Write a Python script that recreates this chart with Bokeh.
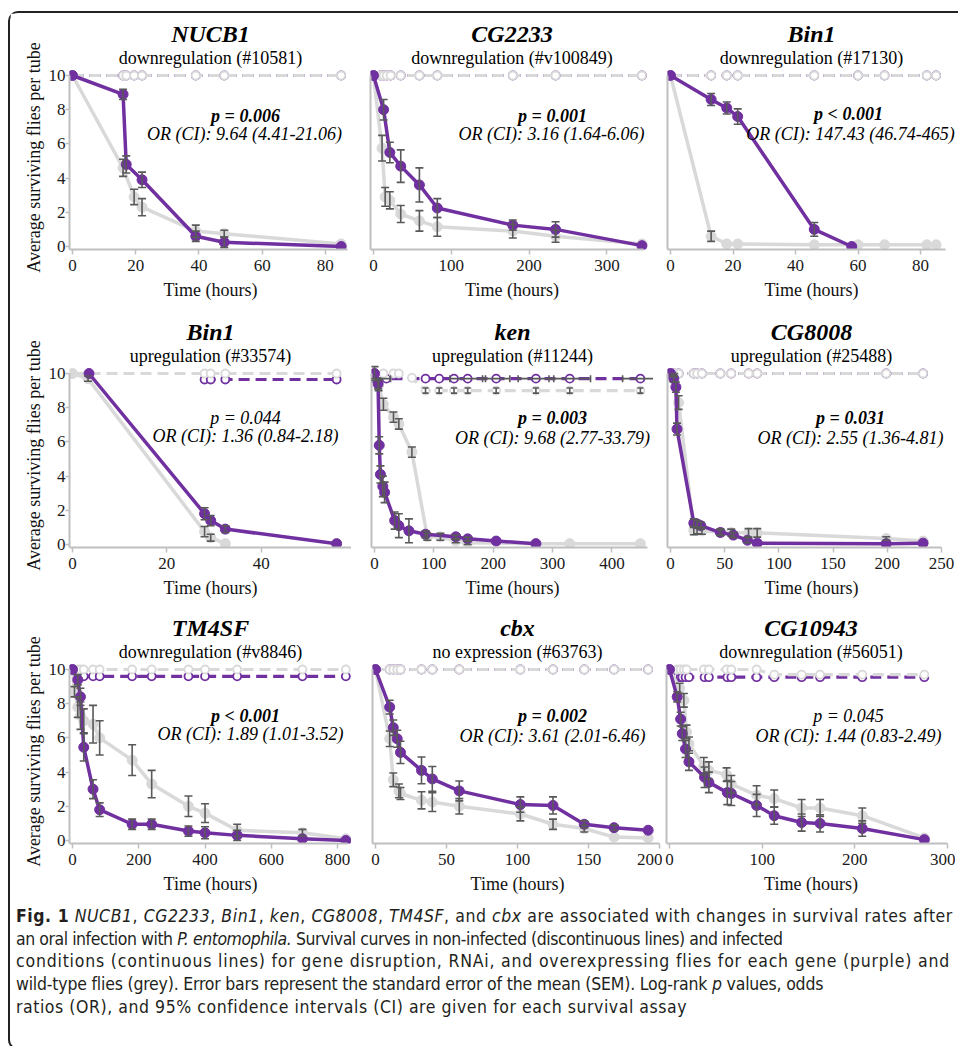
import numpy as np
from bokeh.plotting import figure
from bokeh.models import ColumnDataSource, Whisker, TeeHead, Label, Range1d, FixedTicker, Div, Title
from bokeh.layouts import column, row
from bokeh.embed import file_html
from bokeh.resources import INLINE

PURPLE = "#7030A0"
GREY = "#D9D9D9"
ERR = "#595959"
AXIS = "#BFBFBF"
SERIF = "Liberation Serif"

# ---------------- data ----------------
# NUCB1
nucb1_gene_t = [0, 16, 17, 22, 39, 48, 85]
nucb1_gene = [10, 8.9, 4.8, 3.9, 0.6, 0.25, 0]
nucb1_gene_err = [0, 0.3, 0.5, 0.45, 0.3, 0.3, 0]
nucb1_wt_t = [0, 16, 19.5, 22, 39, 48, 85]
nucb1_wt = [10, 4.6, 2.9, 2.3, 0.9, 0.75, 0.15]
nucb1_wt_err = [0, 0.5, 0.45, 0.5, 0.35, 0.2, 0]
nucb1_ctrl_t = [0, 16, 17, 19.5, 22, 39, 48, 85]
nucb1_wt_ctrl = [10, 10, 10, 10, 10, 10, 10, 10]
nucb1_gene_ctrl = [10, 10, 10, 10, 10, 10, 10, 10]

# CG2233
cg2233_gene_t = [0, 13, 21, 35, 59, 82, 179, 234, 345]
cg2233_gene = [10, 8.0, 5.5, 4.7, 3.6, 2.25, 1.25, 1.0, 0.05]
cg2233_gene_err = [0, 0.6, 0.6, 0.95, 1.0, 0.55, 0.3, 0.45, 0]
cg2233_wt_t = [0, 11, 15, 21, 35, 59, 82, 179, 234, 345]
cg2233_wt = [10, 5.75, 2.9, 2.7, 1.9, 1.5, 1.15, 0.9, 0.6, 0.15]
cg2233_wt_err = [0, 0.75, 0.55, 0.5, 0.5, 0.6, 0.55, 0.4, 0.35, 0]
cg2233_ctrl_t = [0, 9, 13, 17, 22, 35, 59, 82, 179, 234, 345]
cg2233_wt_ctrl = [10, 10, 10, 10, 10, 10, 10, 10, 10, 10, 10]
cg2233_gene_ctrl = [10, 10, 10, 10, 10, 10, 10, 10, 10, 10, 10]

# Bin1 downregulation
bin1d_gene_t = [0, 13, 18, 21.5, 46, 58]
bin1d_gene = [10, 8.6, 8.1, 7.6, 1.0, 0]
bin1d_gene_err = [0, 0.35, 0.35, 0.45, 0.4, 0]
bin1d_wt_t = [0, 13, 18, 21.5, 46, 60, 68.5, 82, 85]
bin1d_wt = [10, 0.6, 0.15, 0.15, 0.1, 0.1, 0.1, 0.1, 0.1]
bin1d_wt_err = [0, 0.3, 0, 0, 0, 0, 0, 0, 0]
bin1d_ctrl_t = [0, 13, 18, 21.5, 46, 60, 68.5, 82, 85]
bin1d_wt_ctrl = [10, 10, 10, 10, 10, 10, 10, 10, 10]
bin1d_gene_ctrl = [10, 10, 10, 10, 10, 10, 10, 10, 10]

# Bin1 upregulation
bin1u_gene_t = [3.5, 28, 29.3, 32.4, 56]
bin1u_gene = [10, 1.8, 1.4, 0.9, 0.05]
bin1u_gene_err = [0, 0.35, 0.3, 0.2, 0]
bin1u_wt_t = [0, 3.3, 28, 29.3, 32.4]
bin1u_wt = [10, 9.7, 0.75, 0.4, 0.05]
bin1u_wt_err = [0, 0.15, 0.3, 0.2, 0]
bin1u_wt_ctrl_t = [0, 3.5, 28, 29.3, 32.4, 56]
bin1u_wt_ctrl = [10, 10, 10, 10, 10, 10]
bin1u_gene_ctrl_t = [28, 29.3, 32.4, 56]
bin1u_gene_ctrl = [9.65, 9.65, 9.65, 9.65]

# ken
ken_gene_t = [0, 6, 8, 10, 14, 17, 34, 41, 58, 86, 137, 157, 205, 272]
ken_gene = [10, 9.4, 5.8, 4.1, 3.4, 3.05, 1.4, 1.1, 0.8, 0.6, 0.45, 0.33, 0.2, 0.05]
ken_gene_err = [0, 0.3, 0.5, 0.5, 0.6, 0.6, 0.5, 0.7, 0.7, 0.2, 0.1, 0.1, 0, 0]
ken_wt_t = [0, 7, 15, 32, 41, 63, 89, 111, 137, 157, 272, 329, 448]
ken_wt = [10, 9.3, 8.2, 7.45, 7.05, 5.4, 0.45, 0.45, 0.2, 0.1, 0.05, 0.05, 0.05]
ken_wt_err = [0.4, 0.3, 0.35, 0.3, 0.3, 0.3, 0.2, 0.2, 0.1, 0.1, 0, 0, 0]
ken_gene_ctrl_t = [0, 20, 86, 109, 134, 157, 205, 272, 329, 448]
ken_gene_ctrl = [9.7, 9.7, 9.7, 9.7, 9.7, 9.7, 9.7, 9.7, 9.7, 9.7]
ken_gene_ctrl_xerr = [27, 0, 0, 0, 0, 30, 23, 30, 35, 30]
ken_wt_ctrl_t = [0, 15, 32, 41, 63, 86, 109, 134, 157, 205, 272, 329, 448]
ken_wt_ctrl = [10, 10, 10, 10, 9.75, 9.0, 9.0, 9.0, 9.0, 9.0, 9.0, 9.0, 9.0]
ken_wt_ctrl_err = [0, 0, 0, 0, 0, 0.15, 0.15, 0.15, 0.15, 0.15, 0.15, 0.15, 0.15]

# CG8008
cg8008_gene_t = [0, 3, 5, 6, 21.5, 24.5, 28, 46, 58, 71, 80, 199, 233]
cg8008_gene = [10, 9.7, 9.2, 6.75, 1.25, 1.2, 1.1, 0.7, 0.55, 0.25, 0.08, 0.05, 0.08]
cg8008_gene_err = [0, 0.2, 0.3, 0.35, 0.25, 0.2, 0.2, 0.15, 0.15, 0.15, 0, 0, 0]
cg8008_wt_t = [0, 3, 7.5, 21.5, 24.5, 29, 46, 56, 72, 80, 199, 233]
cg8008_wt = [10, 9.9, 8.3, 0.82, 0.82, 0.8, 0.72, 0.7, 0.68, 0.68, 0.35, 0.2]
cg8008_wt_err = [0, 0.1, 0.4, 0.25, 0.2, 0.2, 0.2, 0.2, 0.25, 0.25, 0.1, 0]
cg8008_ctrl_t = [0, 3, 7.5, 21.5, 24.5, 29, 46, 56, 72, 80, 199, 233]
cg8008_wt_ctrl = [10, 10, 10, 10, 10, 10, 10, 10, 10, 10, 10, 10]
cg8008_gene_ctrl = [10, 10, 10, 10, 10, 10, 10, 10, 10, 10, 10, 10]

# TM4SF
tm4sf_gene_t = [0, 16, 24, 34, 62, 82, 180, 239, 350, 400, 497, 694, 825]
tm4sf_gene = [10, 9.4, 8.4, 5.45, 3.0, 1.8, 0.95, 0.95, 0.55, 0.45, 0.3, 0.1, 0]
tm4sf_gene_err = [0, 0.3, 0.5, 0.8, 0.55, 0.4, 0.3, 0.3, 0.3, 0.35, 0.3, 0, 0]
tm4sf_wt_t = [0, 6, 16, 24, 34, 62, 82, 180, 239, 350, 400, 497, 694, 825]
tm4sf_wt = [10, 8.7, 7.8, 7.3, 7.0, 6.8, 6.0, 4.7, 3.3, 2.0, 1.6, 0.6, 0.45, 0.1]
tm4sf_wt_err = [0, 0.3, 0.6, 0.8, 0.7, 1.1, 1.0, 0.9, 0.8, 0.6, 0.55, 0.35, 0.2, 0]
tm4sf_ctrl_t = [0, 16, 24, 34, 62, 82, 180, 239, 350, 400, 497, 694, 825]
tm4sf_wt_ctrl = [10, 10, 10, 10, 10, 10, 10, 10, 10, 10, 10, 10, 10]
tm4sf_gene_ctrl = [10, 9.6, 9.6, 9.6, 9.6, 9.6, 9.6, 9.6, 9.6, 9.6, 9.6, 9.6, 9.6]

# cbx
cbx_gene_t = [0, 10, 12.5, 15.3, 17.6, 32.4, 40, 59, 102, 125, 147, 168, 192]
cbx_gene = [10, 7.8, 6.6, 5.95, 5.15, 4.1, 3.6, 2.9, 2.1, 2.05, 0.95, 0.75, 0.6]
cbx_gene_err = [0, 0.4, 0.45, 0.5, 0.65, 0.78, 0.73, 0.58, 0.45, 0.5, 0.2, 0.15, 0]
cbx_wt_t = [0, 10, 12.5, 16.5, 17.6, 32.4, 40, 59, 102, 125, 147, 168, 192]
cbx_wt = [10, 5.95, 3.55, 2.9, 2.75, 2.35, 2.25, 2.0, 1.55, 0.95, 0.7, 0.2, 0.15]
cbx_wt_err = [0, 0.45, 0.4, 0.4, 0.35, 0.5, 0.55, 0.45, 0.4, 0.3, 0.2, 0, 0]
cbx_ctrl_t = [0, 10, 12.5, 15.3, 17.6, 32.4, 40, 59, 102, 125, 147, 168, 192]
cbx_wt_ctrl = [10, 10, 10, 10, 10, 10, 10, 10, 10, 10, 10, 10, 10]
cbx_gene_ctrl = [10, 10, 10, 10, 10, 10, 10, 10, 10, 10, 10, 10, 10]

# CG10943
cg10943_gene_t = [0, 8.3, 12, 13.8, 17.3, 21, 37.8, 42.5, 62.4, 66.7, 94, 113, 142.6, 162.5, 208, 275]
cg10943_gene = [10, 8.4, 7.1, 6.25, 5.35, 4.6, 3.7, 3.4, 2.8, 2.75, 2.05, 1.45, 1.05, 1.0, 0.7, 0.05]
cg10943_gene_err = [0, 0.3, 0.4, 0.4, 0.5, 0.5, 0.6, 0.6, 0.7, 0.7, 0.65, 0.5, 0.5, 0.5, 0.45, 0]
cg10943_wt_t = [0, 11, 15.5, 18.4, 21, 37, 42.5, 61.6, 66.7, 94, 113, 142.6, 162.5, 208, 275]
cg10943_wt = [10, 8.9, 8.2, 6.35, 5.65, 4.35, 4.1, 3.85, 3.3, 2.65, 2.45, 1.9, 1.9, 1.45, 0.15]
cg10943_wt_err = [0, 0.3, 0.4, 0.4, 0.4, 0.5, 0.5, 0.4, 0.5, 0.55, 0.5, 0.5, 0.5, 0.45, 0]
cg10943_wt_ctrl_t = [0, 8.3, 12, 15.5, 18.4, 37, 42.5, 61.6, 66.7, 94, 113, 142.6, 162.5, 208, 275]
cg10943_wt_ctrl = [10, 10, 10, 10, 10, 10, 10, 10, 10, 10, 9.7, 9.7, 9.7, 9.7, 9.7]
cg10943_gene_ctrl_t = [0, 8.3, 12, 13.8, 17.3, 21, 37.8, 42.5, 62.4, 66.7, 94, 113, 142.6, 162.5, 208, 275]
cg10943_gene_ctrl = [10, 9.55, 9.55, 9.55, 9.55, 9.55, 9.55, 9.55, 9.55, 9.55, 9.55, 9.55, 9.55, 9.55, 9.55, 9.55]

# titles / statistics
genes = ["NUCB1", "CG2233", "Bin1", "Bin1", "ken", "CG8008", "TM4SF", "cbx", "CG10943"]
subtitles = ["downregulation (#10581)", "downregulation (#v100849)", "downregulation (#17130)",
             "upregulation (#33574)", "upregulation (#11244)", "upregulation (#25488)",
             "downregulation (#v8846)", "no expression (#63763)", "downregulation (#56051)"]
p_texts = ["p = 0.006", "p = 0.001", "p < 0.001", "p = 0.044", "p = 0.003", "p = 0.031",
           "p < 0.001", "p = 0.002", "p = 0.045"]
p_bold = [True, True, True, False, True, True, True, True, False]
or_texts = ["OR (CI): 9.64 (4.41-21.06)", "OR (CI): 3.16 (1.64-6.06)", "OR (CI): 147.43 (46.74-465)",
            "OR (CI): 1.36 (0.84-2.18)", "OR (CI): 9.68 (2.77-33.79)", "OR (CI): 2.55 (1.36-4.81)",
            "OR (CI): 1.89 (1.01-3.52)", "OR (CI): 3.61 (2.01-6.46)", "OR (CI): 1.44 (0.83-2.49)"]
x_max = [87, 347, 88, 60, 460, 250, 830, 200, 300]
x_step = [20, 100, 20, 20, 100, 50, 200, 50, 100]
y_ticks = [0, 2, 4, 6, 8, 10]

series = [
    dict(gene=(nucb1_gene_t, nucb1_gene, nucb1_gene_err), wt=(nucb1_wt_t, nucb1_wt, nucb1_wt_err),
         gctrl=(nucb1_ctrl_t, nucb1_gene_ctrl), wctrl=(nucb1_ctrl_t, nucb1_wt_ctrl)),
    dict(gene=(cg2233_gene_t, cg2233_gene, cg2233_gene_err), wt=(cg2233_wt_t, cg2233_wt, cg2233_wt_err),
         gctrl=(cg2233_ctrl_t, cg2233_gene_ctrl), wctrl=(cg2233_ctrl_t, cg2233_wt_ctrl)),
    dict(gene=(bin1d_gene_t, bin1d_gene, bin1d_gene_err), wt=(bin1d_wt_t, bin1d_wt, bin1d_wt_err),
         gctrl=(bin1d_ctrl_t, bin1d_gene_ctrl), wctrl=(bin1d_ctrl_t, bin1d_wt_ctrl)),
    dict(gene=(bin1u_gene_t, bin1u_gene, bin1u_gene_err), wt=(bin1u_wt_t, bin1u_wt, bin1u_wt_err),
         gctrl=(bin1u_gene_ctrl_t, bin1u_gene_ctrl), wctrl=(bin1u_wt_ctrl_t, bin1u_wt_ctrl)),
    dict(gene=(ken_gene_t, ken_gene, ken_gene_err), wt=(ken_wt_t, ken_wt, ken_wt_err),
         gctrl=(ken_gene_ctrl_t, ken_gene_ctrl), wctrl=(ken_wt_ctrl_t, ken_wt_ctrl),
         wctrl_err=ken_wt_ctrl_err, gctrl_xerr=ken_gene_ctrl_xerr),
    dict(gene=(cg8008_gene_t, cg8008_gene, cg8008_gene_err), wt=(cg8008_wt_t, cg8008_wt, cg8008_wt_err),
         gctrl=(cg8008_ctrl_t, cg8008_gene_ctrl), wctrl=(cg8008_ctrl_t, cg8008_wt_ctrl)),
    dict(gene=(tm4sf_gene_t, tm4sf_gene, tm4sf_gene_err), wt=(tm4sf_wt_t, tm4sf_wt, tm4sf_wt_err),
         gctrl=(tm4sf_ctrl_t, tm4sf_gene_ctrl), wctrl=(tm4sf_ctrl_t, tm4sf_wt_ctrl)),
    dict(gene=(cbx_gene_t, cbx_gene, cbx_gene_err), wt=(cbx_wt_t, cbx_wt, cbx_wt_err),
         gctrl=(cbx_ctrl_t, cbx_gene_ctrl), wctrl=(cbx_ctrl_t, cbx_wt_ctrl)),
    dict(gene=(cg10943_gene_t, cg10943_gene, cg10943_gene_err), wt=(cg10943_wt_t, cg10943_wt, cg10943_wt_err),
         gctrl=(cg10943_gene_ctrl_t, cg10943_gene_ctrl), wctrl=(cg10943_wt_ctrl_t, cg10943_wt_ctrl)),
]

# ---------------- layout geometry (page pixels) ----------------
COL_LEFT = [[10, 351, 653], [10, 351, 653], [10, 351, 662]]
COL_RIGHT = [[351, 653, 955], [351, 653, 955], [351, 662, 955]]
ROW_TOP = [13, 310, 607]
ROW_H = 297
Y10 = [75, 373, 669]
Y0 = [246, 544, 840]
X0 = [72, 373, 670, 72, 374, 670, 72, 375, 669]          # pixel of t = 0
X_END = [347, 643, 945, 355, 647, 941, 347, 659, 947]    # pixel of axis end
P_POS = [(245, 115, 244, 133), (552, 115, 551, 133), (848, 113, 850, 133),
         (245, 417, 245, 435), (552, 417, 552, 437), (850, 417, 850, 437),
         (245, 715, 250, 733), (552, 715, 552, 735), (848, 715, 848, 735)]
PAD = 3


def whisker(src_x, src_y, err, dim="height", cap=8):
    x = np.asarray(src_x, float)
    y = np.asarray(src_y, float)
    e = np.asarray(err, float)
    m = e > 0
    if dim == "height":
        src = ColumnDataSource(dict(b=x[m], lo=y[m] - e[m], hi=y[m] + e[m]))
    else:
        src = ColumnDataSource(dict(b=y[m], lo=x[m] - e[m], hi=x[m] + e[m]))
    return Whisker(source=src, base="b", lower="lo", upper="hi", dimension=dim,
                   line_color=ERR, line_width=1.6, level="annotation",
                   upper_head=TeeHead(size=cap, line_color=ERR, line_width=1.6),
                   lower_head=TeeHead(size=cap, line_color=ERR, line_width=1.6))


def panel(i):
    r, c = divmod(i, 3)
    s = series[i]
    x0 = X0[i]
    k = (X_END[i] - x0) / x_max[i]
    ky = (Y0[r] - Y10[r]) / 10.0
    fig_l = COL_LEFT[r][c]
    fig_r = COL_RIGHT[r][c]
    fl = x0 - PAD
    fr = fig_r
    ft = Y10[r] - 10
    fb = Y0[r] + PAD
    xs, ys = -PAD / k, -PAD / ky
    p = figure(width=fig_r - fig_l, height=ROW_H,
               x_range=Range1d(xs, (fr - x0) / k),
               y_range=Range1d(ys, 10 + (Y10[r] - ft) / ky),
               min_border_left=fl - fig_l, min_border_right=0,
               min_border_top=ft - ROW_TOP[r], min_border_bottom=ROW_TOP[r] + ROW_H - fb,
               output_backend="svg", toolbar_location=None, tools="")
    p.grid.visible = False
    p.outline_line_color = None
    p.background_fill_color = "white"
    p.border_fill_color = "white"

    for ax in (p.xaxis[0], p.yaxis[0]):
        ax.axis_line_color = AXIS
        ax.axis_line_width = 2
        ax.major_tick_line_color = AXIS
        ax.major_tick_line_width = 1.5
        ax.major_tick_in = 0
        ax.minor_tick_line_color = None
        ax.major_label_text_font = SERIF
        ax.major_label_text_font_size = "17px"
        ax.major_label_text_color = "#1a1a1a"
        ax.axis_label_text_font = SERIF
        ax.axis_label_text_font_style = "normal"
        ax.axis_label_text_font_size = "18px"
        ax.axis_label_text_color = "#111111"
    xa, ya = p.xaxis[0], p.yaxis[0]
    xa.major_tick_out = 5
    xa.major_label_standoff = 5
    xa.axis_label_standoff = 6
    xa.bounds = (xs, x_max[i])
    xa.ticker = FixedTicker(ticks=list(range(0, x_max[i] + 1, x_step[i])))
    xa.axis_label = "Time (hours)"
    ya.bounds = (ys, 10)
    if c == 0:
        ya.major_tick_out = 4
        ya.major_label_standoff = 0
        ya.axis_label_standoff = 2
        ya.ticker = FixedTicker(ticks=y_ticks)
        ya.axis_label = "Average surviving flies per tube"
    else:
        ya.major_tick_out = 0
        ya.major_label_standoff = 0
        ya.ticker = FixedTicker(ticks=[])

    # non-infected (dashed)
    gt, gv = s["gctrl"]
    p.line(gt, gv, line_color=PURPLE, line_width=3.2, line_dash="11 6")
    p.scatter(gt, gv, size=8, fill_color="white", line_color=PURPLE, line_width=1.8)
    if "gctrl_xerr" in s:
        p.add_layout(whisker(gt, gv, s["gctrl_xerr"], dim="width", cap=7))
    wt, wv = s["wctrl"]
    p.line(wt, wv, line_color=GREY, line_width=3.2, line_dash="11 6")
    p.scatter(wt, wv, size=8, fill_color="white", line_color=GREY, line_width=1.8)
    if "wctrl_err" in s:
        p.add_layout(whisker(wt, wv, s["wctrl_err"], cap=6))

    # infected (solid)
    t, v, e = s["wt"]
    p.line(t, v, line_color=GREY, line_width=3.5)
    p.scatter(t, v, size=10, fill_color=GREY, line_color=GREY)
    p.add_layout(whisker(t, v, e))
    t, v, e = s["gene"]
    p.line(t, v, line_color=PURPLE, line_width=3.5)
    p.scatter(t, v, size=10, fill_color=PURPLE, line_color=PURPLE)
    p.add_layout(whisker(t, v, e))

    # titles (subtitle nearest the frame, gene name above it)
    p.add_layout(Title(text=subtitles[i], align="center", text_font=SERIF, text_font_size="18px",
                       text_font_style="normal", text_color="black", standoff=-5, offset=0), "above")
    p.add_layout(Title(text=genes[i], align="center", text_font=SERIF, text_font_size="24px",
                       text_font_style="bold italic", text_color="black", standoff=4, offset=0), "above")

    def dx(px):
        return (px - x0) / k

    def dy(py):
        return (Y0[r] - py) / ky

    px_, py_, ox_, oy_ = P_POS[i]
    p.add_layout(Label(x=dx(px_), y=dy(py_), text=p_texts[i], text_font=SERIF,
                       text_font_size="18px",
                       text_font_style="bold italic" if p_bold[i] else "italic",
                       text_align="center", text_baseline="middle", text_color="black"))
    p.add_layout(Label(x=dx(ox_), y=dy(oy_), text=or_texts[i], text_font=SERIF,
                       text_font_size="18px", text_font_style="italic",
                       text_align="center", text_baseline="middle", text_color="black"))
    return p


figs = [panel(i) for i in range(9)]

caption_lines = [
    ('<b>Fig. 1</b> <i>NUCB1</i>, <i>CG2233</i>, <i>Bin1</i>, <i>ken</i>, <i>CG8008</i>, <i>TM4SF</i>, '
     'and <i>cbx</i> are associated with changes in survival rates after', 0.55),
    ('an oral infection with <i>P. entomophila.</i> Survival curves in non-infected (discontinuous lines) and infected', -0.45),
    ('conditions (continuous lines) for gene disruption, RNAi, and overexpressing flies for each gene (purple) and', 0.8),
    ('wild-type flies (grey). Error bars represent the standard error of the mean (SEM). Log-rank <i>p</i> values, odds', -0.2),
    ('ratios (OR), and 95% confidence intervals (CI) are given for each survival assay', 0.55),
]
caption_html = ('<div style="margin-top:-4px">' +
                "<br>".join('<span style="letter-spacing:%.2fpx">%s</span>' % (ls, txt)
                            for txt, ls in caption_lines) + '</div>')
caption = Div(text=caption_html, width=945, height=134,
              styles={"font-family": "'Liberation Sans Narrow', 'DejaVu Sans Condensed', 'Roboto Condensed', sans-serif",
                      "font-stretch": "condensed",
                      "font-size": "17.5px", "line-height": "22.7px", "color": "#231f20",
                      "white-space": "nowrap", "padding-left": "1px", "padding-top": "0px"})

layout = column(row(*figs[0:3]), row(*figs[3:6]), row(*figs[6:9]), caption,
                styles={"margin-left": "8px", "margin-top": "11px",
                        "border-left": "2px solid #222", "border-top": "2px solid #222",
                        "border-bottom": "2px solid #222", "border-right": "0px none",
                        "border-top-left-radius": "10px", "border-bottom-left-radius": "10px"})

open("out.html", "w").write(file_html(layout, INLINE))
